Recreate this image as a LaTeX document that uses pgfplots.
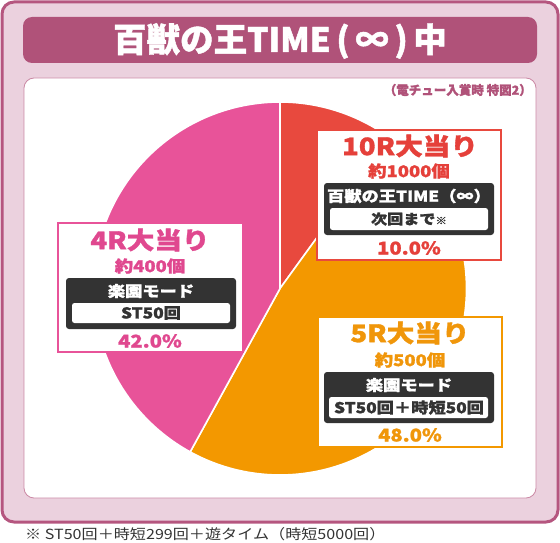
\documentclass[border=0pt]{standalone}
\usepackage{pgfplots}
\pgfplotsset{compat=1.18}
\usepackage{pgfplotstable}
\usepackage{fontspec}
\setmainfont{Noto Sans CJK JP}
\newfontfamily\jpw{Noto Sans CJK JP}[FakeStretch=1.15, BoldFeatures={FakeBold=1.3}]
\newfontfamily\jpt{Noto Sans CJK JP}[BoldFeatures={FakeBold=1.3}]
\newcommand\fs[1]{\fontsize{#1}{#1}\selectfont}
\definecolor{frameB}{HTML}{B5567F}
\definecolor{frameF}{HTML}{EBD1DE}
\definecolor{titleB}{HTML}{B05279}
\definecolor{cRed}{HTML}{E8493E}
\definecolor{cOrange}{HTML}{F39800}
\definecolor{cPink}{HTML}{E85399}
\definecolor{tRed}{HTML}{E5403A}
\definecolor{tOrange}{HTML}{F0960A}
\definecolor{tPink}{HTML}{E0488F}
\definecolor{dark}{HTML}{333333}

\pgfplotstableread{
label value
10R 10
5R 48
4R 42
}\pietable

\begin{document}
\begin{tikzpicture}
\pgfplotstablegetelem{0}{value}\of\pietable \pgfmathsetmacro\va{\pgfplotsretval}
\pgfplotstablegetelem{1}{value}\of\pietable \pgfmathsetmacro\vb{\pgfplotsretval}
\pgfplotstablegetelem{2}{value}\of\pietable \pgfmathsetmacro\vc{\pgfplotsretval}
\pgfmathsetmacro\aA{90}
\pgfmathsetmacro\aB{90-3.6*\va}
\pgfmathsetmacro\aC{\aB-3.6*\vb}
\pgfmathsetmacro\aD{\aC-3.6*\vc}
\begin{axis}[
  scale only axis, width=560pt, height=543pt,
  xmin=0, xmax=560, ymin=0, ymax=543, y dir=reverse,
  hide axis, clip=false,
]
% bounding
\path (axis cs:0,0) rectangle (axis cs:560,543);
% outer frame
\draw[frameB, line width=3pt, fill=frameF, rounded corners=12pt] (axis cs:2,2) rectangle (axis cs:558,522);
% title bar
\fill[titleB, rounded corners=9pt] (axis cs:23,17) rectangle (axis cs:537,63);
\node[white, font=\jpt\bfseries\fs{33.5}] at (axis cs:280,41) {百獣の王TIME\,(\,∞\,)\,中};
% inner panel
\draw[draw=frameB!70, line width=0.8pt, fill=white, rounded corners=10pt] (axis cs:24,78) rectangle (axis cs:536,498);
\node[titleB, font=\jpt\bfseries\fs{12.5}, anchor=east, inner sep=0pt] at (axis cs:532,90) {（電チュー入賞時 特図2）};
% pie slices
\addplot[fill=cRed, draw=white, line width=1.6pt, domain=\aB:\aA, samples=60, variable=\t]
  ({280+186.5*cos(\t)},{288.5-186.5*sin(\t)}) -- (axis cs:280,288.5) -- cycle;
\addplot[fill=cOrange, draw=white, line width=1.6pt, domain=\aC:\aB, samples=120, variable=\t]
  ({280+186.5*cos(\t)},{288.5-186.5*sin(\t)}) -- (axis cs:280,288.5) -- cycle;
\addplot[fill=cPink, draw=white, line width=1.6pt, domain=\aD:\aC, samples=120, variable=\t]
  ({280+186.5*cos(\t)},{288.5-186.5*sin(\t)}) -- (axis cs:280,288.5) -- cycle;

% red box
\draw[cRed, line width=2pt, fill=white] (axis cs:317,130) rectangle (axis cs:501,260);
\node[tRed, font=\jpw\bfseries\fs{24}] at (axis cs:410,146) {10R大当り};
\node[tRed, font=\jpw\bfseries\fs{16}] at (axis cs:409,171) {約1000個};
\fill[dark, rounded corners=3pt] (axis cs:324,183) rectangle (axis cs:494,235);
\node[white, font=\jpw\bfseries\fs{15}] at (axis cs:409,196) {百獣の王TIME（∞）};
\fill[white, rounded corners=2.5pt] (axis cs:330,208) rectangle (axis cs:488,230);
\node[dark, font=\jpw\bfseries\fs{14}] at (axis cs:409,219) {次回まで{\fs{10}※}};
\node[tRed, font=\jpw\bfseries\fs{17.5}] at (axis cs:409,248) {10.0\%};

% orange box
\draw[cOrange, line width=2pt, fill=white] (axis cs:318,317) rectangle (axis cs:502,447);
\node[tOrange, font=\jpw\bfseries\fs{24}] at (axis cs:410,333) {5R大当り};
\node[tOrange, font=\jpw\bfseries\fs{16}] at (axis cs:410,360) {約500個};
\fill[dark, rounded corners=3pt] (axis cs:324,372) rectangle (axis cs:494,423);
\node[white, font=\jpw\bfseries\fs{15}] at (axis cs:409,385) {楽園モード};
\fill[white, rounded corners=2.5pt] (axis cs:329,397) rectangle (axis cs:488,418);
\node[dark, font=\jpw\bfseries\fs{15}] at (axis cs:409,407.5) {ST50回＋時短50回};
\node[tOrange, font=\jpw\bfseries\fs{17.5}] at (axis cs:410,435) {48.0\%};

% pink box
\draw[cPink, line width=2pt, fill=white] (axis cs:58,223) rectangle (axis cs:243,352);
\node[tPink, font=\jpw\bfseries\fs{24}] at (axis cs:150,240) {4R大当り};
\node[tPink, font=\jpw\bfseries\fs{16}] at (axis cs:150,266) {約400個};
\fill[dark, rounded corners=3pt] (axis cs:66,278) rectangle (axis cs:236,329);
\node[white, font=\jpw\bfseries\fs{15}] at (axis cs:151,291) {楽園モード};
\fill[white, rounded corners=2.5pt] (axis cs:72,303) rectangle (axis cs:230,323);
\node[dark, font=\jpw\bfseries\fs{15}] at (axis cs:151,313) {ST50回};
\node[tPink, font=\jpw\bfseries\fs{17.5}] at (axis cs:150,341) {42.0\%};

% footer
\node[dark, font=\jpw\fs{14}, anchor=west, inner sep=0pt] at (axis cs:25,534) {※ ST50回＋時短299回＋遊タイム（時短5000回）};
\end{axis}
\end{tikzpicture}
\end{document}
